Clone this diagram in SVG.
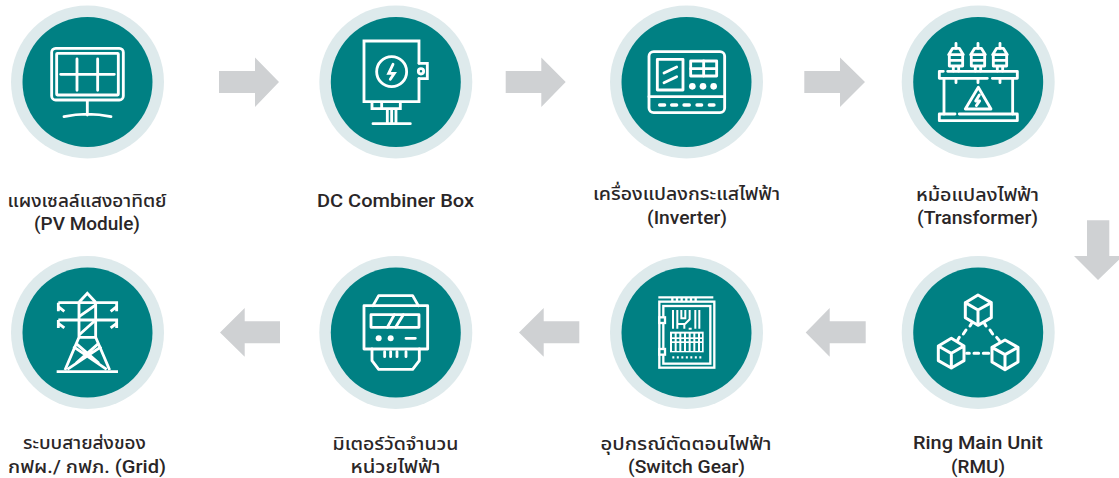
<svg xmlns="http://www.w3.org/2000/svg" width="1119" height="478" viewBox="0 0 1119 478">
<style>
.ring{fill:#deeaec}.disc{fill:#008083}
.ic{fill:none;stroke:#fff;stroke-width:8.5;stroke-linejoin:round;stroke-linecap:round}
.ic .f{fill:#fff;stroke:none}
.ic .h{fill:#008083;stroke:none}
.arr{fill:#cfd1d3}
text{font-family:Roboto,"Noto Sans Thai","Noto Sans",sans-serif;font-size:18px;font-weight:500;fill:#2a2627;text-anchor:middle}
</style>
<rect width="1119" height="478" fill="#fff"/>
<g id="connectors" class="arr">
<polygon points="219,71 255,71 255,57.5 279,82 255,107 255,93 219,93"/>
<polygon points="505.7,71 541.3,71 541.3,57.5 565.7,82 541.3,107 541.3,93 505.7,93"/>
<polygon points="804.3,71 840,71 840,57.5 865,82 840,107 840,93 804.3,93"/>
<polygon points="1087,220.3 1109.3,220.3 1109.3,256 1123,256 1098,280 1074,256 1087,256"/>
<polygon points="865.7,321.3 829.7,321.3 829.7,308 805.7,332.5 829.7,356.7 829.7,343.3 865.7,343.3"/>
<polygon points="579.3,321.3 543.7,321.3 543.7,308 519,332.5 543.7,356.7 543.7,343.3 579.3,343.3"/>
<polygon points="280,321.3 244.7,321.3 244.7,308 220,332.5 244.7,356.7 244.7,343.3 280,343.3"/>
</g>
<g id="node-pv">
<circle class="ring" cx="87.5" cy="82" r="76.5"/><circle class="disc" cx="87.5" cy="82" r="65"/>
<g class="ic" transform="scale(.3333)">
<rect x="155" y="145" width="215" height="155" rx="12"/>
<rect x="170" y="160" width="185" height="125" rx="2"/>
<path d="M182 223H343M231 177V271M293 177V271M262 302V345M192 350Q262 335 333 350"/>
</g>
<text x="87" y="207" textLength="159" lengthAdjust="spacingAndGlyphs">แผงเซลล์แสงอาทิตย์</text>
<text x="87" y="230" textLength="106" lengthAdjust="spacingAndGlyphs">(PV Module)</text>
</g>
<g id="node-dc">
<circle class="ring" cx="395.8" cy="82" r="76.5"/><circle class="disc" cx="395.8" cy="82" r="65"/>
<g class="ic" transform="translate(300 0) scale(.3333)" style="stroke-linejoin:miter">
<path d="M357 190V123H192V305H357V236"/>
<path d="M357 190H382V236H357"/>
<circle cx="275" cy="215" r="45"/>
<circle cx="363" cy="214" r="8"/>
<path d="M279 193L266 220H283L271 238"/>
<path d="M216 308V326H301V308M245 308V326M262 326V371M275 326V371M288 326V371M219 371H331"/>
</g>
<text x="395.5" y="207" textLength="157" lengthAdjust="spacingAndGlyphs">DC Combiner Box</text>
</g>
<g id="node-inverter">
<circle class="ring" cx="686.5" cy="82" r="76.5"/><circle class="disc" cx="686.5" cy="82" r="65"/>
<g class="ic" transform="translate(590 0) scale(.3333)">
<rect x="177" y="155" width="227" height="183" rx="14"/>
<path d="M177 290H404"/>
<rect x="202" y="178" width="77" height="92"/>
<path d="M222 219L260 201M222 248L260 230"/>
<rect x="302" y="183" width="78" height="45"/>
<path d="M302 206H380M341 183V228"/>
<circle class="f" cx="307" cy="259" r="10"/><circle class="f" cx="339" cy="259" r="10"/><circle class="f" cx="371" cy="259" r="10"/>
<path d="M209 315H224M245 315H260M282 315H298M321 315H335M358 315H372" stroke-width="10"/>
</g>
<text x="686.5" y="200" textLength="187" lengthAdjust="spacingAndGlyphs">เครื่องแปลงกระแสไฟฟ้า</text>
<text x="687" y="224" textLength="80" lengthAdjust="spacingAndGlyphs">(Inverter)</text>
</g>
<g id="node-transformer">
<circle class="ring" cx="978.2" cy="82" r="76.5"/><circle class="disc" cx="978.2" cy="82" r="65"/>
<g class="ic" transform="translate(880 0) scale(.3333)">
<path d="M228 130V145M294 130V145M360 130V145"/>
<path d="M218 145H238L250 164H206ZM208 164H248V181H208ZM208 181H248V198H208ZM220 198V213M236 198V213"/>
<path d="M284 145H304L316 164H272ZM274 164H314V181H274ZM274 181H314V198H274ZM286 198V213M302 198V213"/>
<path d="M350 145H370L382 164H338ZM340 164H380V181H340ZM340 181H380V198H340ZM352 198V213M368 198V213"/>
<path d="M203 214H412V235H337M322 235H178V214H190M228 235V248M294 235V248M360 235V248M192 235V342M398 235V342"/>
<path d="M225 342H178V362H412V342H238"/>
<path d="M295 262L333 327H256Z"/>
<path d="M298 285L287 303H299L289 317"/>
</g>
<text x="977.5" y="201" textLength="123" lengthAdjust="spacingAndGlyphs">หม้อแปลงไฟฟ้า</text>
<text x="977.5" y="224" textLength="121" lengthAdjust="spacingAndGlyphs">(Transformer)</text>
</g>
<g id="node-rmu">
<circle class="ring" cx="978.2" cy="332.5" r="76.5"/><circle class="disc" cx="978.2" cy="332.5" r="65"/>
<g class="ic" transform="translate(880 250) scale(.3333)" style="stroke-width:9">
<path d="M294 135L334 158V203L294 226L256 203V158ZM256 158L294 180L334 158M294 180V226"/>
<path d="M214 265L252 288V332L214 354L175 332V288ZM175 288L214 310L252 288M214 310V354"/>
<path d="M375 270L414 292V336L375 359L336 336V292ZM336 292L375 314L414 292M375 314V359"/>
<path d="M276 218L270 228M258 240L250 252M238 262L232 272M312 218L318 228M330 240L338 252M350 262L358 272M260 310H268M282 310H296M310 310H326"/>
</g>
<text x="978" y="449" textLength="130" lengthAdjust="spacingAndGlyphs">Ring Main Unit</text>
<text x="978" y="473" textLength="54" lengthAdjust="spacingAndGlyphs">(RMU)</text>
</g>
<g id="node-switchgear">
<circle class="ring" cx="686.5" cy="332.5" r="76.5"/><circle class="disc" cx="686.5" cy="332.5" r="65"/>
<g class="ic" transform="translate(590 250) scale(.3333)">
<g style="stroke-linecap:butt;stroke-linejoin:miter;stroke-width:7">
<rect x="208" y="155" width="165" height="198"/>
<rect x="220" y="168" width="141" height="173"/>
<path d="M205 142H370M247 142V153M261 142V153M275 142V153M289 142V153M303 142V153M317 142V153"/>
<rect x="208" y="202" width="17" height="17" style="stroke:#fff;fill:#008083"/>
<rect x="208" y="297" width="17" height="17" style="stroke:#fff;fill:#008083"/>
<path d="M249 180V236M262 180V236M274 180V205H286V180M262 222H283V236M299 180V208L285 222M305 236L296 236M316 180V236M328 180V236" style="stroke-width:6"/>
</g>
<rect class="f" x="240" y="245" width="101" height="62"/>
<g class="h">
<rect x="246" y="251" width="8" height="11"/><rect x="260" y="251" width="8" height="11"/><rect x="274" y="251" width="8" height="11"/><rect x="288" y="251" width="8" height="11"/><rect x="302" y="251" width="8" height="11"/><rect x="316" y="251" width="8" height="11"/><rect x="330" y="251" width="6" height="11"/>
<rect x="246" y="267" width="8" height="7"/><rect x="260" y="267" width="8" height="7"/><rect x="274" y="267" width="8" height="7"/><rect x="288" y="267" width="8" height="7"/><rect x="302" y="267" width="8" height="7"/><rect x="316" y="267" width="8" height="7"/><rect x="330" y="267" width="6" height="7"/>
<rect x="246" y="279" width="8" height="24"/><rect x="260" y="279" width="8" height="24"/><rect x="274" y="279" width="8" height="24"/><rect x="288" y="279" width="8" height="24"/><rect x="302" y="279" width="8" height="24"/><rect x="316" y="279" width="8" height="24"/><rect x="330" y="279" width="6" height="24"/>
</g>
<path d="M247 322H335" style="stroke-width:7;stroke-dasharray:6 7.5;stroke-linecap:butt"/>
</g>
<text x="686" y="450" textLength="171" lengthAdjust="spacingAndGlyphs">อุปกรณ์ตัดตอนไฟฟ้า</text>
<text x="686.5" y="473" textLength="117" lengthAdjust="spacingAndGlyphs">(Switch Gear)</text>
</g>
<g id="node-meter">
<circle class="ring" cx="395.8" cy="332.5" r="76.5"/><circle class="disc" cx="395.8" cy="332.5" r="65"/>
<g class="ic" transform="translate(300 250) scale(.3333)">
<rect x="192" y="167" width="191" height="130"/>
<path d="M219 167L236 137H338L355 167M216 297V332L236 358H338L358 332V297"/>
<rect x="213" y="194" width="144" height="38"/>
<path d="M262 232L283 194M287 232L310 194"/>
<circle class="f" cx="236" cy="265" r="9"/><circle class="f" cx="272" cy="265" r="9"/>
<path d="M318 265H346M254 305V320M272 305V320M291 305V320M318 305V320"/>
</g>
<text x="395.5" y="450" textLength="126" lengthAdjust="spacingAndGlyphs">มิเตอร์วัดจำนวน</text>
<text x="395.5" y="473" textLength="90" lengthAdjust="spacingAndGlyphs">หน่วยไฟฟ้า</text>
</g>
<g id="node-grid">
<circle class="ring" cx="87.5" cy="332.5" r="76.5"/><circle class="disc" cx="87.5" cy="332.5" r="65"/>
<g class="ic" transform="translate(0 250) scale(.3333)" style="stroke-linejoin:miter;stroke-linecap:butt;stroke-width:8.5">
<path d="M237 157L262 130L287 157M237 157V262L195 360M287 157V262L329 360"/>
<path d="M175 158H350V184M332 184L350 170M175 184V158M193 184L175 170M175 210H350V234M332 234L350 220M175 234V210M193 234L175 220"/>
<path d="M237 200L287 165M237 255L287 210M235 262H289M228 280L297 340M296 280L228 340M220 290L320 358M304 290L202 358"/>
<path d="M170 365H354"/>
</g>
<text x="84.5" y="449" textLength="123" lengthAdjust="spacingAndGlyphs">ระบบสายส่งของ</text>
<text x="87" y="473" textLength="158" lengthAdjust="spacingAndGlyphs">กฟผ./ กฟภ. (Grid)</text>
</g>
</svg>
